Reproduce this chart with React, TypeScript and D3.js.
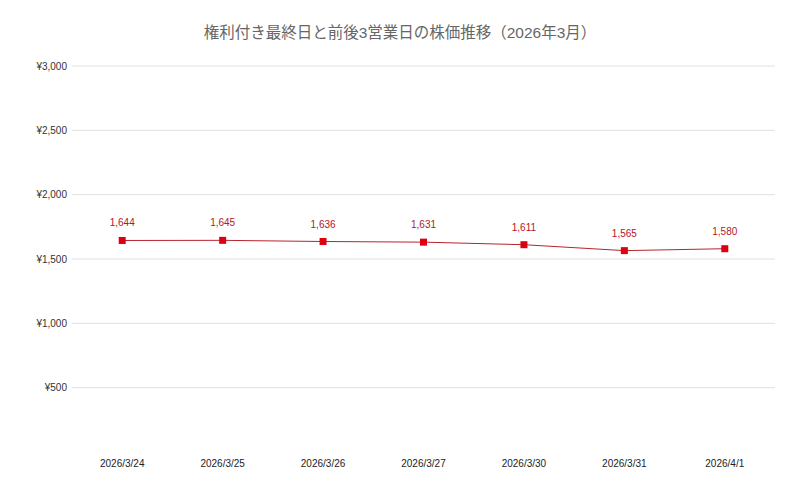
import { useEffect, useRef } from 'react';
import * as d3 from 'd3';

const dates = ['2026/3/24', '2026/3/25', '2026/3/26', '2026/3/27', '2026/3/30', '2026/3/31', '2026/4/1'];
const prices = [1644, 1645, 1636, 1631, 1611, 1565, 1580];
const yTicks = [500, 1000, 1500, 2000, 2500, 3000];
const title = '権利付き最終日と前後3営業日の株価推移（2026年3月）';

export default function App() {
  const svgRef = useRef<SVGSVGElement>(null);

  useEffect(() => {
    if (!svgRef.current) return;
    const width = 800;
    const height = 494;
    const margin = { top: 66, right: 25, bottom: 42, left: 72 };

    const svg = d3.select(svgRef.current);
    svg.selectAll('*').remove();
    svg.attr('width', width).attr('height', height);

    svg.append('rect').attr('width', width).attr('height', height).attr('fill', '#fff');

    svg.append('text')
      .attr('x', width / 2)
      .attr('y', 38)
      .attr('text-anchor', 'middle')
      .attr('font-family', '"Liberation Sans", "Noto Sans CJK JP", sans-serif')
      .attr('font-size', '15.5px')
      .attr('fill', '#666')
      .text(title);

    const x = d3.scaleBand()
      .domain(dates)
      .range([margin.left, width - margin.right]);

    const y = d3.scaleLinear()
      .domain([0, 3000])
      .range([height - margin.bottom, margin.top]);

    const g = svg.append('g').attr('font-family', '"Liberation Sans", Arial, sans-serif');

    g.selectAll('line.grid')
      .data(yTicks)
      .join('line')
      .attr('class', 'grid')
      .attr('x1', margin.left)
      .attr('x2', width - margin.right)
      .attr('y1', d => y(d))
      .attr('y2', d => y(d))
      .attr('stroke', '#e0e0e0')
      .attr('stroke-width', 1);

    const fmt = d3.format(',');

    g.selectAll('text.ylab')
      .data(yTicks)
      .join('text')
      .attr('class', 'ylab')
      .attr('x', margin.left - 5)
      .attr('y', d => y(d) + 3.5)
      .attr('text-anchor', 'end')
      .attr('font-size', '10px')
      .attr('fill', '#333')
      .text(d => '¥' + fmt(d));

    g.selectAll('text.xlab')
      .data(dates)
      .join('text')
      .attr('class', 'xlab')
      .attr('x', d => (x(d) ?? 0) + x.bandwidth() / 2)
      .attr('y', height - 27)
      .attr('text-anchor', 'middle')
      .attr('font-size', '10px')
      .attr('fill', '#222')
      .text(d => d);

    const pts = dates.map((d, i) => ({ d, v: prices[i] }));
    const cx = (d: string) => (x(d) ?? 0) + x.bandwidth() / 2;

    const line = d3.line<{ d: string; v: number }>()
      .x(p => cx(p.d))
      .y(p => y(p.v));

    g.append('path')
      .datum(pts)
      .attr('d', line)
      .attr('fill', 'none')
      .attr('stroke', '#b8232f')
      .attr('stroke-width', 1);

    g.selectAll('rect.pt')
      .data(pts)
      .join('rect')
      .attr('class', 'pt')
      .attr('x', p => cx(p.d) - 3.5)
      .attr('y', p => y(p.v) - 3.5)
      .attr('width', 7)
      .attr('height', 7)
      .attr('fill', '#dd0011');

    g.selectAll('text.val')
      .data(pts)
      .join('text')
      .attr('class', 'val')
      .attr('x', p => cx(p.d))
      .attr('y', p => y(p.v) - 14)
      .attr('text-anchor', 'middle')
      .attr('font-size', '10px')
      .attr('fill', '#b3152a')
      .text(p => fmt(p.v));
  }, []);

  return <svg ref={svgRef} style={{ display: 'block', position: 'absolute', left: 0, top: 0 }} />;
}
